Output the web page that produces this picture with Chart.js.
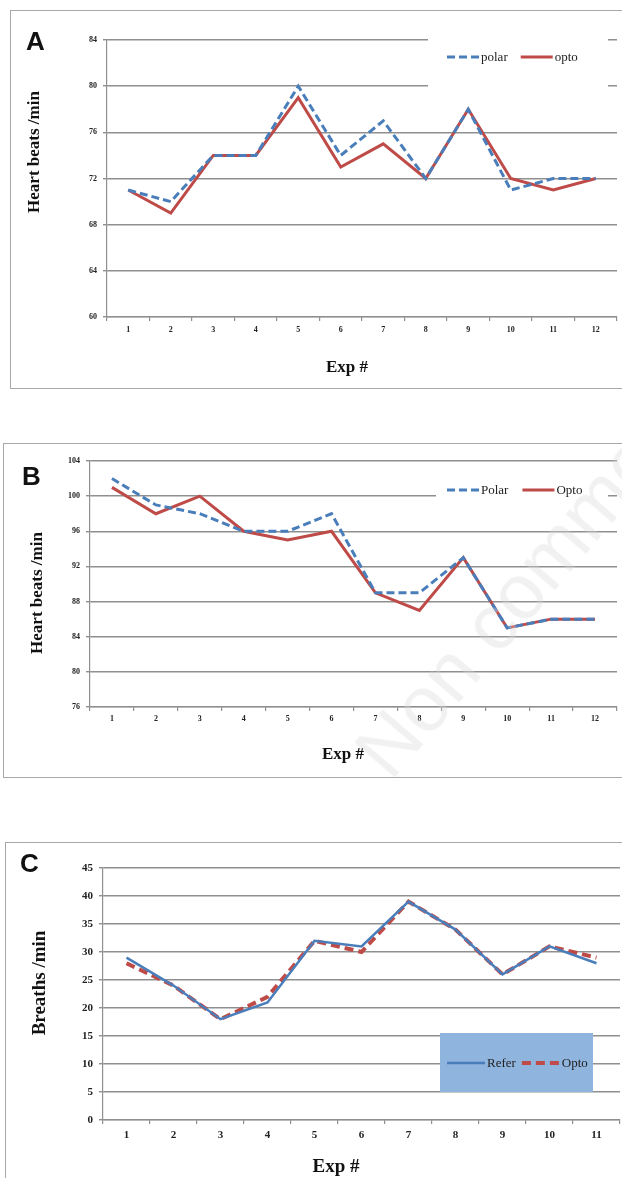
<!DOCTYPE html>
<html>
<head>
<meta charset="utf-8">
<script src="https://cdn.jsdelivr.net/npm/chart.js@4.4.0/dist/chart.umd.min.js"></script>
<style>
  body { margin: 0; background: #fff; width: 622px; height: 1178px; position: relative; overflow: hidden; }
  .panel { position: absolute; border: 1.5px solid #a8a8a8; box-sizing: border-box; }
  .wrap { position: absolute; left: 0; }
  .wm {
    position: absolute; left: 400px; top: 712px; font: 78px "Liberation Sans", Arial, sans-serif;
    color: rgba(215, 215, 215, 0.35); white-space: nowrap; line-height: 78px;
    transform-origin: 0 100%; transform: rotate(-49.5deg); pointer-events: none;
  }
</style>
</head>
<body>
<div class="panel" style="left:10px;top:10px;width:640px;height:379px"></div>
<div class="panel" style="left:3px;top:443px;width:640px;height:335px"></div>
<div class="panel" style="left:5px;top:842px;width:640px;height:360px"></div>

<div class="wrap" style="top:0"><canvas id="chartA" width="622" height="400"></canvas></div>
<div class="wrap" style="top:430px"><canvas id="chartB" width="622" height="350"></canvas></div>
<div class="wrap" style="top:820px"><canvas id="chartC" width="622" height="358"></canvas></div>
<div class="wm">Non commercial use only</div>

<script>
// 데이터
const expA = ['1', '2', '3', '4', '5', '6', '7', '8', '9', '10', '11', '12'];
const polarA = [71, 70, 74, 74, 80, 74, 77, 72, 78, 71, 72, 72];
const optoA  = [71, 69, 74, 74, 79, 73, 75, 72, 78, 72, 71, 72];
const rangeA = [60, 84, 4];   // min, max, step

const expB = ['1', '2', '3', '4', '5', '6', '7', '8', '9', '10', '11', '12'];
const polarB = [102, 99, 98, 96, 96, 98, 89, 89, 93, 85, 86, 86];
const optoB  = [101, 98, 100, 96, 95, 96, 89, 87, 93, 85, 86, 86];
const rangeB = [76, 104, 4];

const expC = ['1', '2', '3', '4', '5', '6', '7', '8', '9', '10', '11'];
const referC = [29, 24, 18, 21, 32, 31, 39, 34, 26, 31, 28];
const optoC  = [28, 24, 18, 22, 32, 30, 39, 34, 26, 31, 29];
const rangeC = [0, 45, 5];

const BLUE = '#4a7ebb';
const RED = '#be4b48';
const GRID = '#8f8f8f';
const SERIF = '"Liberation Serif", "Times New Roman", serif';

// 패널 글자, 축 제목, 범례를 그리는 플러그인
const decor = {
    id: 'decor',
    beforeDatasetsDraw(chart, args, o) {
        const ctx = chart.ctx;
        ctx.save();

        // panel letter
        ctx.fillStyle = '#111';
        ctx.font = 'bold 26px "Liberation Sans", Arial, sans-serif';
        ctx.textAlign = 'left';
        ctx.textBaseline = 'alphabetic';
        ctx.fillText(o.letter, o.letterAt[0], o.letterAt[1]);

        // axis titles
        ctx.font = 'bold ' + o.titleSize + 'px ' + SERIF;
        ctx.textAlign = 'center';
        ctx.textBaseline = 'middle';
        ctx.fillText(o.xTitle, o.xTitleAt[0], o.xTitleAt[1]);
        ctx.save();
        ctx.translate(o.yTitleAt[0], o.yTitleAt[1]);
        ctx.rotate(-Math.PI / 2);
        ctx.fillText(o.yTitle, 0, 0);
        ctx.restore();

        // legend
        const lg = o.legend;
        if (lg.box) {
            ctx.fillStyle = lg.bg;
            ctx.fillRect(lg.box[0], lg.box[1], lg.box[2], lg.box[3]);
        }
        ctx.font = lg.size + 'px ' + SERIF;
        ctx.textAlign = 'left';
        let x = lg.x;
        chart.data.datasets.forEach(ds => {
            ctx.strokeStyle = ds.borderColor;
            ctx.lineWidth = ds.borderWidth;
            ctx.setLineDash(ds.borderDash || []);
            ctx.beginPath();
            ctx.moveTo(x, lg.y);
            ctx.lineTo(x + lg.sample, lg.y);
            ctx.stroke();
            x += lg.sample + 2;
            ctx.fillStyle = '#222';
            ctx.fillText(ds.label, x, lg.y + 1);
            x += ctx.measureText(ds.label).width + lg.gap;
        });
        ctx.restore();
    }
};

function makeChart(id, labels, sets, range, L) {
    const ctx = document.getElementById(id).getContext('2d');
    return new Chart(ctx, {
        type: 'line',
        data: { labels: labels, datasets: sets },
        plugins: [decor],
        options: {
            responsive: false,
            animation: false,
            layout: { padding: L.padding },
            elements: { point: { radius: 0 }, line: { tension: 0 } },
            plugins: {
                legend: { display: false },
                tooltip: { enabled: false },
                decor: L.decor
            },
            scales: {
                x: {
                    type: 'category',
                    offset: true,
                    afterFit: s => { s.height = L.xHeight; },
                    grid: { offset: true, drawOnChartArea: false, color: GRID, tickLength: 4, lineWidth: 1.2 },
                    border: { color: GRID, width: 1.2 },
                    ticks: { color: '#222', padding: L.xPad, font: { family: SERIF, size: L.tickSize, weight: 'bold' }, maxRotation: 0 }
                },
                y: {
                    min: range[0],
                    max: range[1],
                    afterFit: s => { s.width = L.yWidth; },
                    grid: { color: GRID, tickLength: 4, lineWidth: 1.4 },
                    border: { color: GRID, width: 1.2 },
                    ticks: { stepSize: range[2], color: '#222', padding: 6, font: { family: SERIF, size: L.tickSize, weight: 'bold' } }
                }
            }
        }
    });
}

// 📈 A
makeChart('chartA', expA, [
    { label: 'polar', data: polarA, borderColor: BLUE, borderWidth: 3, borderDash: [8, 4] },
    { label: 'opto', data: optoA, borderColor: RED, borderWidth: 3 }
], rangeA, {
    padding: { left: 0, right: 5, top: 40, bottom: 13 },
    xHeight: 70, yWidth: 107, xPad: 4, tickSize: 8,
    decor: {
        letter: 'A', letterAt: [26, 50],
        titleSize: 17, xTitle: 'Exp #', xTitleAt: [347, 368],
        yTitle: 'Heart beats /min', yTitleAt: [35, 152],
        legend: { x: 447, y: 57, sample: 32, gap: 13, size: 13, box: [428, 36, 180, 58], bg: '#ffffff' }
    }
});

// 📈 B
makeChart('chartB', expB, [
    { label: 'Polar', data: polarB, borderColor: BLUE, borderWidth: 3, borderDash: [8, 4] },
    { label: 'Opto', data: optoB, borderColor: RED, borderWidth: 3 }
], rangeB, {
    padding: { left: 0, right: 5, top: 31, bottom: 13 },
    xHeight: 60, yWidth: 90, xPad: 3, tickSize: 8,
    decor: {
        letter: 'B', letterAt: [22, 55],
        titleSize: 17, xTitle: 'Exp #', xTitleAt: [343, 325],
        yTitle: 'Heart beats /min', yTitleAt: [38, 163],
        legend: { x: 447, y: 60, sample: 32, gap: 14, size: 13, box: [436, 45, 172, 30], bg: '#ffffff' }
    }
});

// 📈 C
makeChart('chartC', expC, [
    { label: 'Refer', data: referC, borderColor: BLUE, borderWidth: 2.5 },
    { label: 'Opto', data: optoC, borderColor: RED, borderWidth: 4, borderDash: [9, 5] }
], rangeC, {
    padding: { left: 0, right: 2, top: 48, bottom: 0 },
    xHeight: 58, yWidth: 103, xPad: 5, tickSize: 11,
    decor: {
        letter: 'C', letterAt: [20, 52],
        titleSize: 19, xTitle: 'Exp #', xTitleAt: [336, 347],
        yTitle: 'Breaths /min', yTitleAt: [40, 163],
        legend: { x: 447, y: 243, sample: 38, gap: 6, size: 13, box: [440, 213, 153, 59], bg: '#8fb4de' }
    }
});
</script>
</body>
</html>
